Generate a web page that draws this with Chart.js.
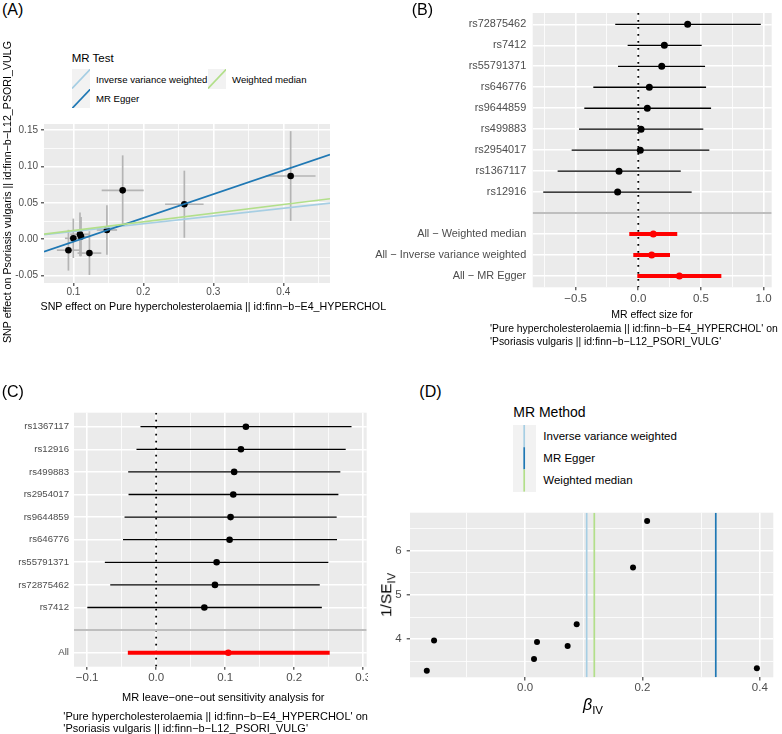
<!DOCTYPE html>
<html><head><meta charset="utf-8"><title>MR plots</title>
<script src="https://cdn.jsdelivr.net/npm/chart.js@4.4.1/dist/chart.umd.min.js"></script>
<style>
html,body{margin:0;padding:0;background:#fff;}
body{width:782px;height:734px;position:relative;overflow:hidden;font-family:"Liberation Sans",Arial,Helvetica,sans-serif;color:#000;}
.t{position:absolute;white-space:nowrap;line-height:1;}
canvas{position:absolute;display:block;}
.clip{position:absolute;overflow:hidden;}
.sub{font-size:0.72em;position:relative;top:0.32em;}
</style></head><body>
<script>
// ================= DATA =================
// Panel A: SNP effects (exposure x, outcome y) with standard-error bars
const aSnpX = [0.093, 0.100, 0.1095, 0.111, 0.123, 0.148, 0.1705, 0.2586, 0.4105];
const aSnpY = [-0.015, 0.0013, 0.0068, 0.0036, -0.019, 0.0127, 0.067, 0.048, 0.0867];
const aSeX  = [0.0165, 0.012, 0.014, 0.012, 0.017, 0.0145, 0.030, 0.0275, 0.0355];
const aSeY  = [0.028, 0.027, 0.030, 0.027, 0.030, 0.034, 0.048, 0.046, 0.0615];
const mrMethods    = ["Inverse variance weighted", "MR Egger", "Weighted median"];
const aSlopes      = [0.106, 0.326, 0.119];
const aIntercepts  = [0, -0.0361, 0];
const aXTicks = [0.1, 0.2, 0.3, 0.4];
const aXMinor = [0.15, 0.25, 0.35, 0.45];
const aYTicks = [-0.05, 0, 0.05, 0.10, 0.15];
const aYMinor = [-0.025, 0.025, 0.075, 0.125];

// Panel B: single-SNP forest plot
const bLabels = ["rs72875462","rs7412","rs55791371","rs646776","rs9644859","rs499883","rs2954017","rs1367117","rs12916","",
                 "All \u2212 Weighted median","All \u2212 Inverse variance weighted","All \u2212 MR Egger"];
const bEst = [0.394, 0.208, 0.187, 0.088, 0.072, 0.022, 0.016, -0.154, -0.165, null, 0.120, 0.107, 0.328];
const bLo  = [-0.184, -0.085, -0.162, -0.359, -0.431, -0.473, -0.532, -0.644, -0.759, null, -0.072, -0.040, -0.008];
const bHi  = [0.978, 0.506, 0.533, 0.541, 0.581, 0.519, 0.567, 0.339, 0.426, null, 0.311, 0.253, 0.663];
const bXTicks = [-0.5, 0, 0.5, 1.0];
const bXMinor = [-0.75, -0.25, 0.25, 0.75];

// Panel C: leave-one-out
const cLabels = ["rs1367117","rs12916","rs499883","rs2954017","rs9644859","rs646776","rs55791371","rs72875462","rs7412","","All"];
const cEst = [0.130, 0.1228, 0.113, 0.1117, 0.1078, 0.1064, 0.0876, 0.0852, 0.0698, null, 0.1045];
const cLo  = [-0.0227, -0.0285, -0.0405, -0.040, -0.0458, -0.048, -0.0743, -0.0665, -0.0997, null, -0.041];
const cHi  = [0.283, 0.2746, 0.2668, 0.264, 0.2615, 0.262, 0.2494, 0.237, 0.240, null, 0.2514];
const cXTicks = [-0.1, 0, 0.1, 0.2, 0.3];
const cXMinor = [-0.05, 0.05, 0.15, 0.25];

// Panel D: funnel plot
const dBeta   = [-0.1674, -0.155, 0.0153, 0.0204, 0.0726, 0.088, 0.184, 0.208, 0.395];
const dInvSE  = [3.29, 3.97, 3.555, 3.94, 3.85, 4.34, 5.62, 6.67, 3.345];
const dMethodBeta = [0.105, 0.325, 0.118];
const dXTicks = [0.0, 0.2, 0.4];
const dXMinor = [-0.1, 0.1, 0.3];
const dYTicks = [4, 5, 6];
const dYMinor = [3.5, 4.5, 5.5, 6.5];

// ================= STYLE / LAYOUT =================
const FONT = '"Liberation Sans", Arial, Helvetica, sans-serif';
const methodColors = ['#A6CEE3', '#1F78B4', '#B2DF8A'];
Chart.defaults.font.family = FONT;
Chart.defaults.animation = false;

function txt(html, x, y, size, o) {
  o = o || {};
  const d = document.createElement('div');
  d.className = 't';
  if (o.html) d.innerHTML = html; else d.textContent = html;
  d.style.left = x + 'px'; d.style.top = y + 'px'; d.style.fontSize = size + 'px';
  const ax = o.align === 'center' ? '-50%' : (o.align === 'right' ? '-100%' : '0');
  d.style.transform = o.rot ? 'translate(-50%,-50%) rotate(' + o.rot + 'deg)' : 'translate(' + ax + ',-50%)';
  if (o.color) d.style.color = o.color;
  document.body.appendChild(d);
}
function rect(x, y, w, h, bg) {
  const d = document.createElement('div');
  d.style.cssText = 'position:absolute;left:' + x + 'px;top:' + y + 'px;width:' + w + 'px;height:' + h + 'px;background:' + bg;
  document.body.appendChild(d);
  return d;
}
function svgLine(parent, w, h, x1, y1, x2, y2, col, lw) {
  parent.innerHTML += '<svg width="' + w + '" height="' + h + '" style="position:absolute;left:0;top:0"><line x1="' + x1 + '" y1="' + y1 + '" x2="' + x2 + '" y2="' + y2 + '" stroke="' + col + '" stroke-width="' + lw + '"/></svg>';
}
function makeCanvas(g, clipW) {
  const cv = document.createElement('canvas');
  cv.width = g.w; cv.height = g.h;
  cv.style.width = g.w + 'px'; cv.style.height = g.h + 'px';
  if (clipW) {
    const wrap = document.createElement('div');
    wrap.className = 'clip';
    wrap.style.left = g.left + 'px'; wrap.style.top = g.top + 'px';
    wrap.style.width = clipW + 'px'; wrap.style.height = g.h + 'px';
    cv.style.left = '0px'; cv.style.top = '0px';
    wrap.appendChild(cv); document.body.appendChild(wrap);
  } else {
    cv.style.left = g.left + 'px'; cv.style.top = g.top + 'px';
    document.body.appendChild(cv);
  }
  return cv;
}
function fmtNum(d) { return v => (v < 0 ? '\u2212' : '') + Math.abs(v).toFixed(d); }

function axis(o) {
  const all = o.major.concat(o.minor || []).sort((a, b) => a - b);
  const isMaj = c => c.tick && o.major.includes(c.tick.value);
  return {
    type: 'linear', min: o.min, max: o.max,
    afterBuildTicks: s => { s.ticks = all.map(v => ({ value: v })); },
    afterFit: o.fit,
    ticks: { autoSkip: false, maxRotation: 0, minRotation: 0, padding: o.pad, color: '#4D4D4D',
      font: { size: o.size, family: FONT }, callback: v => (o.major.includes(v) ? o.fmt(v) : '') },
    grid: { color: '#FFFFFF', lineWidth: c => (isMaj(c) ? (o.majW || 1.6) : (o.minW || 0.8)),
      drawTicks: o.tickLen > 0, tickLength: o.tickLen || 0, tickWidth: 1.1,
      tickColor: c => (isMaj(c) ? '#333333' : 'rgba(0,0,0,0)') },
    border: { display: false }
  };
}

const gg = {
  id: 'gg',
  beforeDraw(chart) {
    const a = chart.chartArea, c = chart.ctx;
    c.save(); c.fillStyle = '#EBEBEB'; c.fillRect(a.left, a.top, a.right - a.left, a.bottom - a.top); c.restore();
  },
  beforeDatasetsDraw(chart, args, opts) {
    const a = chart.chartArea, c = chart.ctx, xs = chart.scales.x, ys = chart.scales.y;
    c.save();
    c.beginPath(); c.rect(a.left, a.top, a.right - a.left, a.bottom - a.top); c.clip();
    (opts.vlines || []).forEach(v => {
      const x = xs.getPixelForValue(v.value);
      c.strokeStyle = v.color; c.lineWidth = v.width; c.setLineDash(v.dash || []);
      c.beginPath(); c.moveTo(x, a.top); c.lineTo(x, a.bottom); c.stroke();
    });
    c.setLineDash([]);
    (opts.hlines || []).forEach(h => {
      const y = ys.getPixelForValue(h.value);
      c.strokeStyle = h.color; c.lineWidth = h.width;
      c.beginPath(); c.moveTo(a.left, y); c.lineTo(a.right, y); c.stroke();
    });
    chart.data.datasets.forEach(ds => {
      const e = ds.errBars; if (!e) return;
      c.strokeStyle = e.color; c.lineWidth = e.width; c.lineCap = 'butt';
      ds.data.forEach((p, i) => {
        if (e.xLo) { const y = ys.getPixelForValue(p.y); c.beginPath(); c.moveTo(xs.getPixelForValue(e.xLo[i]), y); c.lineTo(xs.getPixelForValue(e.xHi[i]), y); c.stroke(); }
        if (e.yLo) { const x = xs.getPixelForValue(p.x); c.beginPath(); c.moveTo(x, ys.getPixelForValue(e.yLo[i])); c.lineTo(x, ys.getPixelForValue(e.yHi[i])); c.stroke(); }
      });
    });
    c.restore();
  }
};

function baseOpts(g, area, scales, ggOpts) {
  return {
    responsive: false, animation: false, events: [], devicePixelRatio: 1,
    layout: { padding: { top: area.t - g.top, right: g.left + g.w - area.r, left: 0, bottom: 0 } },
    scales: scales,
    plugins: { legend: { display: false }, tooltip: { enabled: false }, gg: ggOpts || {} }
  };
}
const fitW = w => s => { s.width = w; };
const fitH = h => s => { s.height = h; };

// ================= PANEL A =================
(function () {
  const g = { left: 0, top: 110, w: 345, h: 195 };
  const area = { l: 44, t: 124, r: 330, b: 283 };
  const xMin = 0.0581, xMax = 0.4667, yMin = -0.06, yMax = 0.158;
  const cv = makeCanvas(g);
  const datasets = mrMethods.map((m, k) => ({
    label: m, type: 'scatter', showLine: true, pointRadius: 0, borderWidth: 1.7,
    borderColor: methodColors[k], order: 3 - k,
    data: [{ x: xMin, y: aSlopes[k] * xMin + aIntercepts[k] }, { x: xMax, y: aSlopes[k] * xMax + aIntercepts[k] }]
  }));
  datasets.push({
    label: 'SNPs', type: 'scatter', order: 5, pointRadius: 3.3, pointBorderWidth: 0,
    pointBackgroundColor: '#000', pointBorderColor: '#000',
    data: aSnpX.map((x, i) => ({ x: x, y: aSnpY[i] })),
    errBars: { color: '#B4B4B4', width: 1.7,
      xLo: aSnpX.map((x, i) => x - aSeX[i]), xHi: aSnpX.map((x, i) => x + aSeX[i]),
      yLo: aSnpY.map((y, i) => y - aSeY[i]), yHi: aSnpY.map((y, i) => y + aSeY[i]) }
  });
  new Chart(cv, {
    type: 'scatter', data: { datasets: datasets }, plugins: [gg],
    options: baseOpts(g, area, {
      x: axis({ min: xMin, max: xMax, major: aXTicks, minor: aXMinor, fmt: v => v.toFixed(1), size: 10, pad: 0.5, tickLen: 3, fit: fitH(g.top + g.h - area.b) }),
      y: axis({ min: yMin, max: yMax, major: aYTicks, minor: aYMinor, fmt: v => v.toFixed(2), size: 10, pad: 3, tickLen: 3, fit: fitW(area.l - g.left) })
    })
  });
  txt('(A)', 2, 9.5, 16);
  txt('MR Test', 71.7, 59, 11.5);
  const k1 = rect(71.7, 69, 18.5, 19.5, '#F2F2F2'); svgLine(k1, 18.5, 19.5, 0, 19.5, 18.5, 0, methodColors[0], 1.7);
  const k2 = rect(71.7, 88.5, 18.5, 19.5, '#F2F2F2'); svgLine(k2, 18.5, 19.5, 0, 19.5, 18.5, 0, methodColors[1], 1.7);
  const k3 = rect(207.7, 69, 18.5, 19.5, '#F2F2F2'); svgLine(k3, 18.5, 19.5, 0, 19.5, 18.5, 0, methodColors[2], 1.7);
  txt(mrMethods[0], 96, 79.5, 9.6);
  txt(mrMethods[1], 96, 98.5, 9.6);
  txt(mrMethods[2], 232, 79.5, 9.6);
  txt('SNP effect on Psoriasis vulgaris || id:finn\u2212b\u2212L12_PSORI_VULG', 7, 191.5, 10.7, { rot: -90 });
  txt('SNP effect on Pure hypercholesterolaemia || id:finn\u2212b\u2212E4_HYPERCHOL', 213.3, 305.7, 10.7, { align: 'center' });
})();

// ================= FOREST helper =================
function forest(g, area, labels, est, lo, hi, xr, xMaj, xMin, fmt, o, clipW) {
  const N = labels.length;
  const pos = labels.map((_, i) => N - i);
  const isSum = labels.map(l => l.indexOf('All') === 0);
  const idxSnp = [], idxSum = [];
  labels.forEach((l, i) => { if (est[i] === null) return; (isSum[i] ? idxSum : idxSnp).push(i); });
  const sep = labels.map((l, i) => (l === '' ? pos[i] : null)).filter(v => v !== null);
  const cv = makeCanvas(g, clipW);
  const mk = (idx, col, lw) => ({
    type: 'scatter', pointRadius: o.r, pointBorderWidth: 0, pointBackgroundColor: col, pointBorderColor: col,
    data: idx.map(i => ({ x: est[i], y: pos[i] })),
    errBars: { color: col, width: lw, xLo: idx.map(i => lo[i]), xHi: idx.map(i => hi[i]) }
  });
  new Chart(cv, {
    type: 'scatter', data: { datasets: [mk(idxSnp, '#000000', o.ciW), mk(idxSum, '#FF0000', o.sumW)] }, plugins: [gg],
    options: baseOpts(g, area, {
      x: axis({ min: xr[0], max: xr[1], major: xMaj, minor: xMin, fmt: fmt, size: o.xSize, pad: o.xPad, tickLen: 3, fit: fitH(g.top + g.h - area.b) }),
      y: axis({ min: 1 - o.exp, max: N + o.exp, major: pos, minor: [], fmt: v => labels[N - v], size: o.ySize, pad: o.yPad, tickLen: 0, fit: fitW(area.l - g.left) })
    }, {
      vlines: [{ value: 0, color: '#000000', width: 1.8, dash: [1.8, 5.2] }],
      hlines: sep.map(v => ({ value: v, color: '#BEBEBE', width: 2 }))
    })
  });
}

// ================= PANEL B =================
forest({ left: 368, top: 0, w: 414, h: 310 }, { l: 532.7, t: 2.4, r: 771.7, b: 287.3 },
  bLabels, bEst, bLo, bHi, [-0.843, 1.065], bXTicks, bXMinor, fmtNum(1),
  { r: 3.5, ciW: 1.3, sumW: 4, xSize: 11.5, ySize: 10.9, xPad: 1.8, yPad: 6.5, exp: 0.54 });
txt('(B)', 411.7, 10, 16);
txt('MR effect size for', 652, 314, 10.5, { align: 'center' });
txt("'Pure hypercholesterolaemia || id:finn\u2212b\u2212E4_HYPERCHOL' on", 490, 329, 10.4);
txt("'Psoriasis vulgaris || id:finn\u2212b\u2212L12_PSORI_VULG'", 490, 341.5, 10.4);

// ================= PANEL C =================
forest({ left: 0, top: 400, w: 376, h: 292 }, { l: 74, t: 412.7, r: 366.7, b: 666.7 },
  cLabels, cEst, cLo, cHi, [-0.119, 0.305], cXTicks, cXMinor, fmtNum(1),
  { r: 3.3, ciW: 1.3, sumW: 4, xSize: 11.5, ySize: 9.6, xPad: 1.4, yPad: 5, exp: 0.62 }, 368);
txt('(C)', 1.7, 392, 16);
txt('MR leave\u2212one\u2212out sensitivity analysis for', 223.3, 697, 11, { align: 'center' });
txt("'Pure hypercholesterolaemia || id:finn\u2212b\u2212E4_HYPERCHOL' on", 63.3, 715.7, 11);
txt("'Psoriasis vulgaris || id:finn\u2212b\u2212L12_PSORI_VULG'", 63.3, 728, 11);

// ================= PANEL D =================
(function () {
  const g = { left: 370, top: 500, w: 412, h: 200 };
  const area = { l: 410, t: 512.7, r: 773.3, b: 677.3 };
  const xMin = -0.196, xMax = 0.423, yMin = 3.142, yMax = 6.857;
  const cv = makeCanvas(g);
  const datasets = mrMethods.map((m, k) => ({
    label: m, type: 'scatter', showLine: true, pointRadius: 0, borderWidth: 1.7,
    borderColor: methodColors[k], order: 3 - k,
    data: [{ x: dMethodBeta[k], y: yMin }, { x: dMethodBeta[k], y: yMax }]
  }));
  datasets.push({
    label: 'SNPs', type: 'scatter', order: 5, pointRadius: 3, pointBorderWidth: 0,
    pointBackgroundColor: '#000', pointBorderColor: '#000',
    data: dBeta.map((b, i) => ({ x: b, y: dInvSE[i] }))
  });
  new Chart(cv, {
    type: 'scatter', data: { datasets: datasets }, plugins: [gg],
    options: baseOpts(g, area, {
      x: axis({ min: xMin, max: xMax, major: dXTicks, minor: dXMinor, fmt: fmtNum(1), size: 11.5, pad: 0.5, tickLen: 3.3, fit: fitH(g.top + g.h - area.b) }),
      y: axis({ min: yMin, max: yMax, major: dYTicks, minor: dYMinor, fmt: v => String(v), size: 11.5, pad: 5, tickLen: 3.3, fit: fitW(area.l - g.left) })
    })
  });
  txt('(D)', 419.3, 392, 16);
  txt('MR Method', 513.3, 411.7, 14);
  const kb = rect(513.3, 425, 22.4, 66.6, '#F2F2F2');
  for (let k = 0; k < 3; k++) svgLine(kb, 22.4, 66.6, 11.2, k * 22.2, 11.2, (k + 1) * 22.2, methodColors[k], 1.7);
  txt(mrMethods[0], 543.3, 436.5, 11.5);
  txt(mrMethods[1], 543.3, 458.5, 11.5);
  txt(mrMethods[2], 543.3, 480.5, 11.5);
  txt('1/SE<span class="sub">IV</span>', 386, 595, 15.5, { rot: -90, html: true });
  txt('<i>\u03b2</i><span class="sub">IV</span>', 593, 705, 16, { align: 'center', html: true });
})();
</script>
</body></html>
